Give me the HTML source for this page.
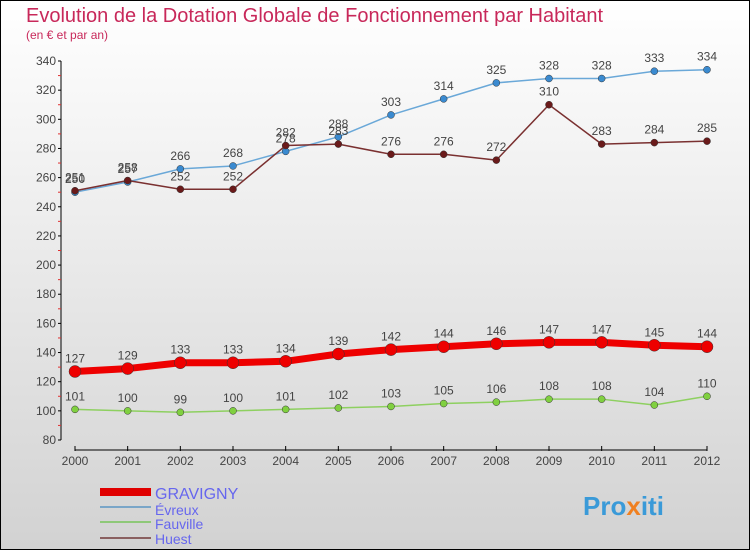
<!DOCTYPE html>
<html><head><meta charset="utf-8"><style>
body{margin:0}
#c{width:750px;height:550px;position:relative;overflow:hidden;font-family:"Liberation Sans",sans-serif}
</style></head><body>
<div id="c">
<svg id="s" width="750" height="550" xmlns="http://www.w3.org/2000/svg">
<defs><linearGradient id="bg" x1="0" y1="0" x2="0" y2="1"><stop offset="0" stop-color="#ffffff"/><stop offset="1" stop-color="#d2d2d2"/></linearGradient></defs>
<rect x="0.5" y="0.5" width="749" height="549" fill="url(#bg)" stroke="#000"/>
<text x="26" y="22" font-size="20" fill="#c8285a">Evolution de la Dotation Globale de Fonctionnement par Habitant</text>
<text x="26" y="39" font-size="12" fill="#c8285a">(en € et par an)</text>
<g id="axes"></g><g id="series"></g>
<g>
<rect x="100" y="488" width="51" height="8" fill="#e00000"/>
<text x="155" y="499" font-size="16" fill="#6666ee">GRAVIGNY</text>
<rect x="100" y="506" width="51" height="2" fill="#7aa6c8"/>
<text x="155" y="515" font-size="14" fill="#6666ee">Évreux</text>
<rect x="100" y="521" width="51" height="2" fill="#8ec878"/>
<text x="155" y="529" font-size="14" fill="#6666ee">Fauville</text>
<rect x="100" y="537" width="51" height="2" fill="#8a6060"/>
<text x="155" y="544" font-size="14" fill="#6666ee">Huest</text>
</g>
<text x="583" y="515" font-size="26" font-weight="bold" fill="#3a9ad8">Pro<tspan fill="#f08020">x</tspan><tspan fill="#3a9ad8">iti</tspan></text>
</svg></div>
<script>
const years=[2000,2001,2002,2003,2004,2005,2006,2007,2008,2009,2010,2011,2012];
const gravigny=[127,129,133,133,134,139,142,144,146,147,147,145,144];
const evreux=[250,257,266,268,278,288,303,314,325,328,328,333,334];
const fauville=[101,100,99,100,101,102,103,105,106,108,108,104,110];
const huest=[251,258,252,252,282,283,276,276,272,310,283,284,285];
const yTicks=[80,100,120,140,160,180,200,220,240,260,280,300,320,340];
const NS="http://www.w3.org/2000/svg";
const x=i=>75+i*(707-75)/(years.length-1);
const y=v=>440-(v-80)*(440-61)/260;
function mk(t,a,p){const e=document.createElementNS(NS,t);for(const k in a)e.setAttribute(k,a[k]);p.appendChild(e);return e;}
const ax=document.getElementById('axes');
let l=mk('line',{x1:61,y1:61,x2:61,y2:440,stroke:'#000'},ax);


yTicks.forEach((v,k)=>{
 mk('line',{x1:58,x2:61,y1:y(v),y2:y(v),stroke:'#000'},ax);
 if(k<yTicks.length-1) mk('line',{x1:58,x2:61,y1:y(v+10),y2:y(v+10),stroke:'#e03030'},ax);
 const t=mk('text',{x:56,y:y(v)+4,'font-size':12,'text-anchor':'end',fill:'#444'},ax);
 t.textContent=v;
 
 
});
l=mk('line',{x1:x(0),y1:450,x2:x(12),y2:450,stroke:'#000'},ax);


years.forEach((yr,i)=>{
 mk('line',{x1:x(i),x2:x(i),y1:446,y2:451,stroke:'#000'},ax);
 const t=mk('text',{x:x(i),y:465,'font-size':12,'text-anchor':'middle',fill:'#444'},ax);
 t.textContent=yr;
 
 
});
const sg=document.getElementById('series');
function draw(name,data,col,dot,w,r){
 const g=mk('g',{},sg);
 
 
 const p=mk('polyline',{points:data.map((v,i)=>x(i)+','+y(v)).join(' '),fill:'none',stroke:col,'stroke-width':w,'stroke-linejoin':'round'},g);
 
 
 data.forEach((v,i)=>{
  const c=mk('circle',{cx:x(i),cy:y(v),r:r,fill:dot,stroke:'#333','stroke-width':0.5},g);
  
  
  const t=mk('text',{x:x(i),y:y(v)-9,'font-size':12,'text-anchor':'middle',fill:'#444'},g);
  t.textContent=v;
  
  
 });
}
draw('fauville',fauville,'#8ed060','#80d040',1.5,3.5);
draw('evreux',evreux,'#6aa8d8','#3a8ad0',1.5,3.5);
draw('huest',huest,'#7a3030','#6a1a1a',1.5,3.5);
draw('gravigny',gravigny,'#ee0000','#ee0000',7,6);
</script>
</body></html>
